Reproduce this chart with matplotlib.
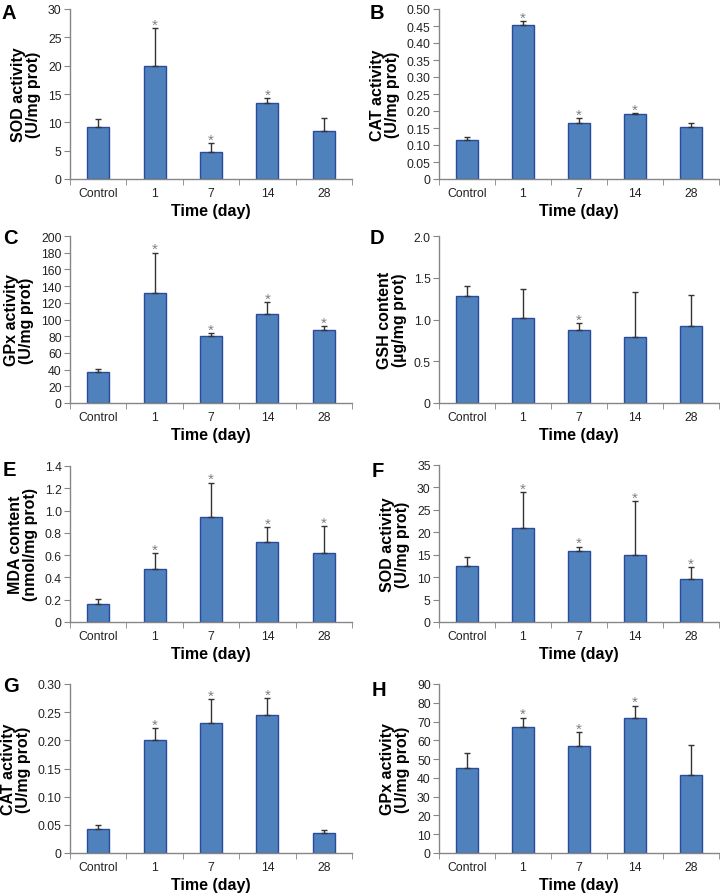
import matplotlib
matplotlib.use("Agg")
import matplotlib.pyplot as plt
import numpy as np

plt.rcParams['font.family'] = ['Liberation Sans', 'DejaVu Sans']

categories = ["Control", "1", "7", "14", "28"]

A_vals = [9.2, 20.0, 4.7, 13.4, 8.4]
A_err = [1.4, 6.6, 1.6, 0.9, 2.3]
A_star = [False, True, True, True, False]

B_vals = [0.115, 0.453, 0.165, 0.190, 0.152]
B_err = [0.008, 0.012, 0.013, 0.004, 0.012]
B_star = [False, True, True, True, False]

C_vals = [37, 132, 80, 107, 88]
C_err = [4, 48, 4, 14, 4]
C_star = [False, True, True, True, True]

D_vals = [1.28, 1.02, 0.87, 0.79, 0.92]
D_err = [0.12, 0.34, 0.09, 0.54, 0.37]
D_star = [False, False, True, False, False]

E_vals = [0.16, 0.48, 0.94, 0.72, 0.62]
E_err = [0.05, 0.14, 0.31, 0.13, 0.24]
E_star = [False, True, True, True, True]

F_vals = [12.4, 20.9, 15.8, 14.9, 9.6]
F_err = [2.1, 8.0, 1.0, 12.0, 2.7]
F_star = [False, True, True, True, True]

G_vals = [0.042, 0.200, 0.230, 0.245, 0.035]
G_err = [0.007, 0.022, 0.043, 0.030, 0.005]
G_star = [False, True, True, True, False]

H_vals = [45.5, 67.0, 57.0, 72.0, 41.5]
H_err = [7.8, 5.0, 7.3, 6.5, 16.0]
H_star = [False, True, True, True, False]

A_ticks = [0, 5, 10, 15, 20, 25, 30]
A_ticklabels = ["0", "5", "10", "15", "20", "25", "30"]
B_ticks = [0, 0.05, 0.10, 0.15, 0.20, 0.25, 0.30, 0.35, 0.40, 0.45, 0.50]
B_ticklabels = ["0", "0.05", "0.10", "0.15", "0.20", "0.25", "0.30", "0.35", "0.40", "0.45", "0.50"]
C_ticks = [0, 20, 40, 60, 80, 100, 120, 140, 160, 180, 200]
C_ticklabels = [str(t) for t in C_ticks]
D_ticks = [0, 0.5, 1.0, 1.5, 2.0]
D_ticklabels = ["0", "0.5", "1.0", "1.5", "2.0"]
E_ticks = [0, 0.2, 0.4, 0.6, 0.8, 1.0, 1.2, 1.4]
E_ticklabels = ["0", "0.2", "0.4", "0.6", "0.8", "1.0", "1.2", "1.4"]
F_ticks = [0, 5, 10, 15, 20, 25, 30, 35]
F_ticklabels = [str(t) for t in F_ticks]
G_ticks = [0, 0.05, 0.10, 0.15, 0.20, 0.25, 0.30]
G_ticklabels = ["0", "0.05", "0.10", "0.15", "0.20", "0.25", "0.30"]
H_ticks = [0, 10, 20, 30, 40, 50, 60, 70, 80, 90]
H_ticklabels = [str(t) for t in H_ticks]

panels = [
    ("A", A_vals, A_err, A_star, A_ticks, A_ticklabels, "SOD activity\n(U/mg prot)"),
    ("B", B_vals, B_err, B_star, B_ticks, B_ticklabels, "CAT activity\n(U/mg prot)"),
    ("C", C_vals, C_err, C_star, C_ticks, C_ticklabels, "GPx activity\n(U/mg prot)"),
    ("D", D_vals, D_err, D_star, D_ticks, D_ticklabels, "GSH content\n(\u00b5g/mg prot)"),
    ("E", E_vals, E_err, E_star, E_ticks, E_ticklabels, "MDA content\n(nmol/mg prot)"),
    ("F", F_vals, F_err, F_star, F_ticks, F_ticklabels, "SOD activity\n(U/mg prot)"),
    ("G", G_vals, G_err, G_star, G_ticks, G_ticklabels, "CAT activity\n(U/mg prot)"),
    ("H", H_vals, H_err, H_star, H_ticks, H_ticklabels, "GPx activity\n(U/mg prot)"),
]

W, H = 720, 895
fig = plt.figure(figsize=(W / 100, H / 100), dpi=100)

# pixel boxes (left, top, right, bottom)
boxes = [
    (70, 10, 352, 180), (439, 10, 719, 180),
    (70, 237, 352, 404), (439, 237, 719, 404),
    (70, 467, 352, 623), (439, 466, 719, 623),
    (70, 685, 352, 854), (439, 685, 719, 854),
]
letter_pos = [(2, 4), (370, 4), (3, 229), (370, 229), (3, 461), (372, 462), (3, 677), (372, 681)]

spine_col = "#868686"
bar_fill = "#4F81BD"
bar_edge = "#2B4A9B"
x = np.arange(len(categories))

for (letter, vals, err, star, ticks, tlabels, ylab), (l, t, r, b), (lx, ly) in zip(panels, boxes, letter_pos):
    ax = fig.add_axes([l / W, 1 - b / H, (r - l) / W, (b - t) / H])
    ax.bar(x, vals, width=0.39, color=bar_fill, edgecolor=bar_edge, linewidth=1.0, zorder=2)
    ax.errorbar(x, vals, yerr=[np.zeros(len(vals)), err], fmt="none", ecolor="#333333",
                elinewidth=1.0, capsize=2, capthick=1.0, zorder=3)
    for xi, v, e, s in zip(x, vals, err, star):
        if s:
            ax.annotate("*", (xi, v + e), xytext=(0, -2.5), textcoords="offset points",
                        ha="center", va="bottom", fontsize=11, color="#808080")
    ax.set_xlim(-0.5, 4.5)
    ax.set_ylim(ticks[0], ticks[-1])
    ax.set_yticks(ticks)
    ax.set_yticklabels(tlabels, fontsize=8.8, color="#222222")
    ax.set_xticks(x)
    ax.set_xticklabels(categories, fontsize=8.8, color="#222222")
    ax.tick_params(axis="x", which="major", length=0, pad=6)
    ax.set_xticks(np.arange(-0.5, 5.0, 1.0), minor=True)
    ax.tick_params(axis="x", which="minor", length=4, color=spine_col, direction="out")
    ax.tick_params(axis="y", length=4, color=spine_col, direction="out", pad=2)
    for sp in ["top", "right"]:
        ax.spines[sp].set_visible(False)
    for sp in ["left", "bottom"]:
        ax.spines[sp].set_color(spine_col)
        ax.spines[sp].set_linewidth(1.0)
    ax.set_ylabel(ylab, fontsize=11.5, fontweight="bold", labelpad=5, linespacing=1.0)
    ax.set_xlabel("Time (day)", fontsize=11.5, fontweight="bold", labelpad=2.5)
    fig.text(lx / W, 1 - ly / H, letter, fontsize=14.5, fontweight="bold", ha="left", va="top")

fig.savefig("out.png", dpi=100)
